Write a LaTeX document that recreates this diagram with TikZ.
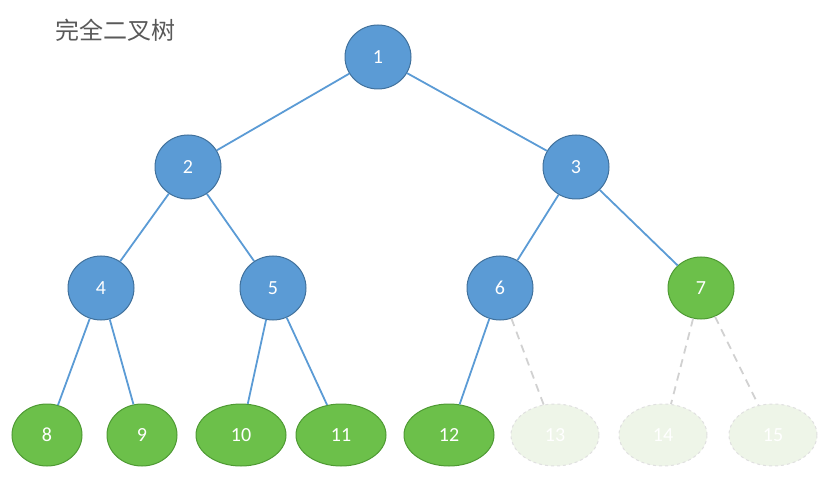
\documentclass[tikz,border=0pt]{standalone}
\usepackage{fontspec}
\usetikzlibrary{shapes.geometric}
\setmainfont{Carlito}
\newfontfamily\cjk{Noto Sans CJK SC}
\definecolor{bl}{HTML}{5B9BD5}
\definecolor{bld}{HTML}{41719C}
\definecolor{gr}{HTML}{6CC04A}
\definecolor{grd}{HTML}{4E9A33}
\definecolor{fad}{HTML}{EEF5E8}
\begin{document}
\begin{tikzpicture}[x=1pt,y=-1pt,
  bn/.style={ellipse,draw=bld,line width=1pt,fill=bl,text=white,minimum width=66pt,minimum height=64pt,inner sep=0pt,font=\fontsize{20}{20}\selectfont},
  gn/.style={bn,draw=grd,fill=gr,minimum width=#1,minimum height=62pt},
  fn/.style={ellipse,draw=black!12,dashed,line width=1pt,fill=fad,text=white,minimum width=88pt,minimum height=62pt,inner sep=0pt,font=\fontsize{20}{20}\selectfont},
  ed/.style={draw=bl,line width=1.8pt},
  fe/.style={draw=black!18,line width=1.8pt,dash pattern=on 8pt off 6pt}]
\useasboundingbox (0,0) rectangle (835,494);
\node[anchor=west,text=black!65,font=\cjk\fontsize{24}{24}\selectfont] (t) at (52,30) {完全二叉树};
\node[bn] (n1) at (378,57) {1};
\node[bn] (n2) at (188,167) {2};
\node[bn] (n3) at (576,167) {3};
\node[bn] (n4) at (101,288) {4};
\node[bn] (n5) at (273,288) {5};
\node[bn] (n6) at (500,288) {6};
\node[gn=66pt] (n7) at (701,288) {7};
\node[gn=70pt] (n8) at (47,435) {8};
\node[gn=70pt] (n9) at (142,435) {9};
\node[gn=90pt] (n10) at (241,435) {10};
\node[gn=90pt] (n11) at (341,435) {11};
\node[gn=90pt] (n12) at (449,435) {12};
\node[fn] (n13) at (555,435) {13};
\node[fn] (n14) at (663,435) {14};
\node[fn] (n15) at (773,435) {15};
\draw[ed] (n1)--(n2); \draw[ed] (n1)--(n3);
\draw[ed] (n2)--(n4); \draw[ed] (n2)--(n5);
\draw[ed] (n3)--(n6); \draw[ed] (n3)--(n7);
\draw[ed] (n4)--(n8); \draw[ed] (n4)--(n9);
\draw[ed] (n5)--(n10); \draw[ed] (n5)--(n11);
\draw[ed] (n6)--(n12);
\draw[fe] (n6)--(n13); \draw[fe] (n7)--(n14); \draw[fe] (n7)--(n15);
\end{tikzpicture}
\end{document}
